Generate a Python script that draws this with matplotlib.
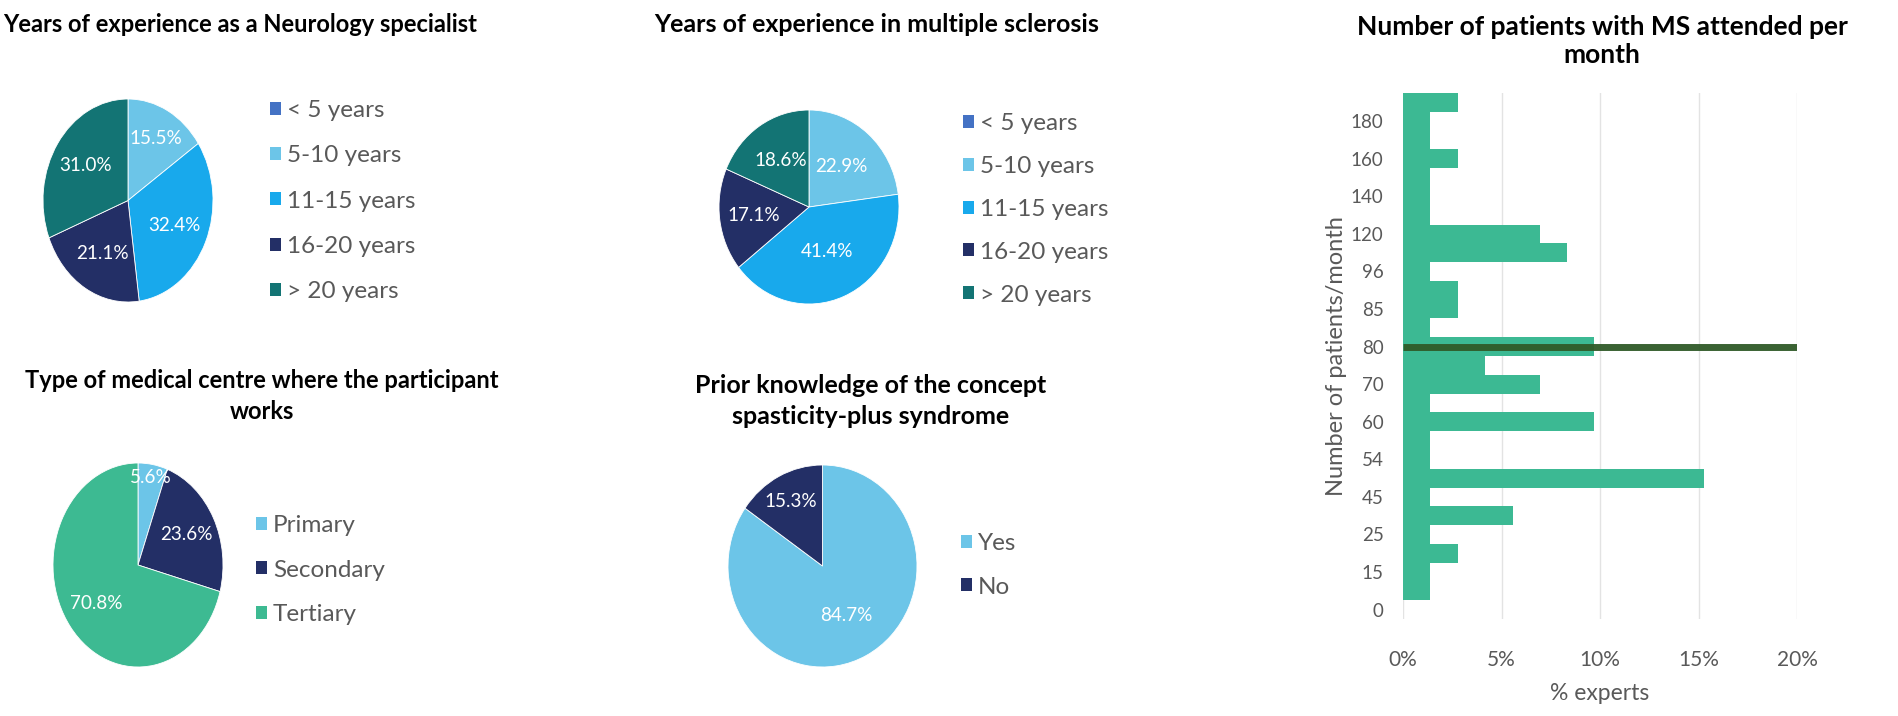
import matplotlib
matplotlib.use("Agg")
import numpy as np
import matplotlib.pyplot as plt
from matplotlib.patches import Patch

plt.rcParams['font.family'] = ['Lato', 'DejaVu Sans']

W, H = 1898, 716

# --- data ---
years_labels = ['< 5 years', '5-10 years', '11-15 years', '16-20 years', '> 20 years']
years_colors = ['#4472c4', '#6cc5e8', '#18a9ec', '#232f66', '#137474']
neuro_pct = [0.0, 15.5, 32.4, 21.1, 31.0]
ms_pct = [0.0, 22.9, 41.4, 17.1, 18.6]

centre_labels = ['Primary', 'Secondary', 'Tertiary']
centre_colors = ['#6cc5e8', '#232f66', '#3dba92']
centre_pct = [5.6, 23.6, 70.8]

prior_labels = ['Yes', 'No']
prior_colors = ['#6cc5e8', '#232f66']
prior_pct = [84.7, 15.3]

# patients per month: 28 categories from bottom, only every 2nd one labelled
patients_ticks = ['0', '15', '25', '45', '54', '60', '70', '80', '85', '96',
                  '120', '140', '160', '180']
patients_pct = [0, 1.39, 1.39, 2.78, 1.39, 5.56, 1.39, 15.28, 1.39, 1.39,
                9.72, 1.39, 6.94, 4.17, 9.72, 1.39, 2.78, 2.78, 1.39, 8.33,
                6.94, 1.39, 1.39, 1.39, 2.78, 1.39, 1.39, 2.78]
mean_line_cat = 14  # the "80" category

TEXT_GREY = '#595959'


def px_axes(fig, x0, y0, x1, y1):
    return fig.add_axes([x0 / W, 1 - y1 / H, (x1 - x0) / W, (y1 - y0) / H])


def draw_pie(fig, box, values, colors, radii):
    ax = px_axes(fig, *box)
    vals = [v for v in values if v > 0]
    cols = [c for v, c in zip(values, colors) if v > 0]
    wedges, texts, autotexts = ax.pie(
        vals, colors=cols, startangle=90, counterclock=False,
        autopct='%.1f%%', pctdistance=0.6,
        wedgeprops=dict(edgecolor='white', linewidth=0.6),
        textprops=dict(color='white', fontsize=13.6))
    # label radius per slice (Excel "best fit" puts them a bit irregularly)
    for w, t, r in zip(wedges, autotexts, radii):
        ang = np.deg2rad((w.theta1 + w.theta2) / 2)
        t.set_position((r * np.cos(ang), r * np.sin(ang)))
    ax.set_aspect('auto')
    ax.set_xlim(-1, 1)
    ax.set_ylim(-1, 1)
    return ax


def draw_legend(fig, labels, colors, x, y, spacing):
    handles = [Patch(facecolor=c, edgecolor='none') for c in colors]
    fig.legend(handles, labels, loc='upper left',
               bbox_to_anchor=(x / W, 1 - y / H), frameon=False,
               fontsize=17.5, handlelength=0.45, handleheight=0.45,
               handletextpad=0.25, labelspacing=spacing, labelcolor=TEXT_GREY,
               borderpad=0, borderaxespad=0)


def title(fig, text, cx, cy, size, ls=1.2):
    fig.text(cx / W, 1 - cy / H, text, ha='center', va='center',
             fontsize=size, fontweight='bold', linespacing=ls)


fig = plt.figure(figsize=(W / 100, H / 100), dpi=100)

# top left pie
title(fig, 'Years of experience as a Neurology specialist', 240, 24, 17)
draw_pie(fig, (43, 99, 213, 302), neuro_pct, years_colors, [0.69, 0.6, 0.6, 0.61])
draw_legend(fig, years_labels, years_colors, 270, 100, 1.0)

# top middle pie
title(fig, 'Years of experience in multiple sclerosis', 877, 25, 18)
draw_pie(fig, (719, 110, 899, 304), ms_pct, years_colors, [0.55, 0.5, 0.62, 0.57])
draw_legend(fig, years_labels, years_colors, 963, 113, 0.9)

# bottom left pie
title(fig, 'Type of medical centre where the participant\nworks', 262, 396, 17, 1.4)
draw_pie(fig, (53, 463, 223, 667), centre_pct, centre_colors, [0.87, 0.64, 0.62])
draw_legend(fig, centre_labels, centre_colors, 256, 515, 0.97)

# bottom middle pie
title(fig, 'Prior knowledge of the concept\nspasticity-plus syndrome', 871, 401, 18, 1.45)
draw_pie(fig, (728, 465, 917, 667), prior_pct, prior_colors, [0.55, 0.72])
draw_legend(fig, prior_labels, prior_colors, 961, 533, 0.93)

# right: horizontal bars
title(fig, 'Number of patients with MS attended per\nmonth', 1602, 41, 19, 1.2)
ax = px_axes(fig, 1403, 93, 1797, 619)
cats = list(range(len(patients_pct)))
ax.barh(cats, [p / 100 for p in patients_pct], height=1.0, color='#3cb993',
        zorder=2)
ax.plot([0, 0.2], [mean_line_cat, mean_line_cat], color='#2f5a28', lw=5,
        alpha=0.95, zorder=3, solid_capstyle='butt')
ax.set_xlim(0, 0.2)
ax.set_ylim(-0.5, len(patients_pct) - 0.5)
ax.set_xticks([0, 0.05, 0.1, 0.15, 0.2])
ax.set_xticklabels(['0%', '5%', '10%', '15%', '20%'])
ax.set_yticks(cats[::2])
ax.set_yticklabels(patients_ticks)
ax.grid(axis='x', color='#e3e3e3', lw=1, zorder=0)
for s in ax.spines.values():
    s.set_visible(False)
ax.tick_params(axis='both', length=0, colors=TEXT_GREY)
ax.tick_params(axis='x', pad=22, labelsize=15)
ax.tick_params(axis='y', pad=14, labelsize=13.5)
ax.set_xlabel('% experts', fontsize=16.5, color=TEXT_GREY, labelpad=10)
ax.set_ylabel('Number of patients/month', fontsize=17, color=TEXT_GREY,
              labelpad=3)

fig.savefig('out.png', dpi=100)
